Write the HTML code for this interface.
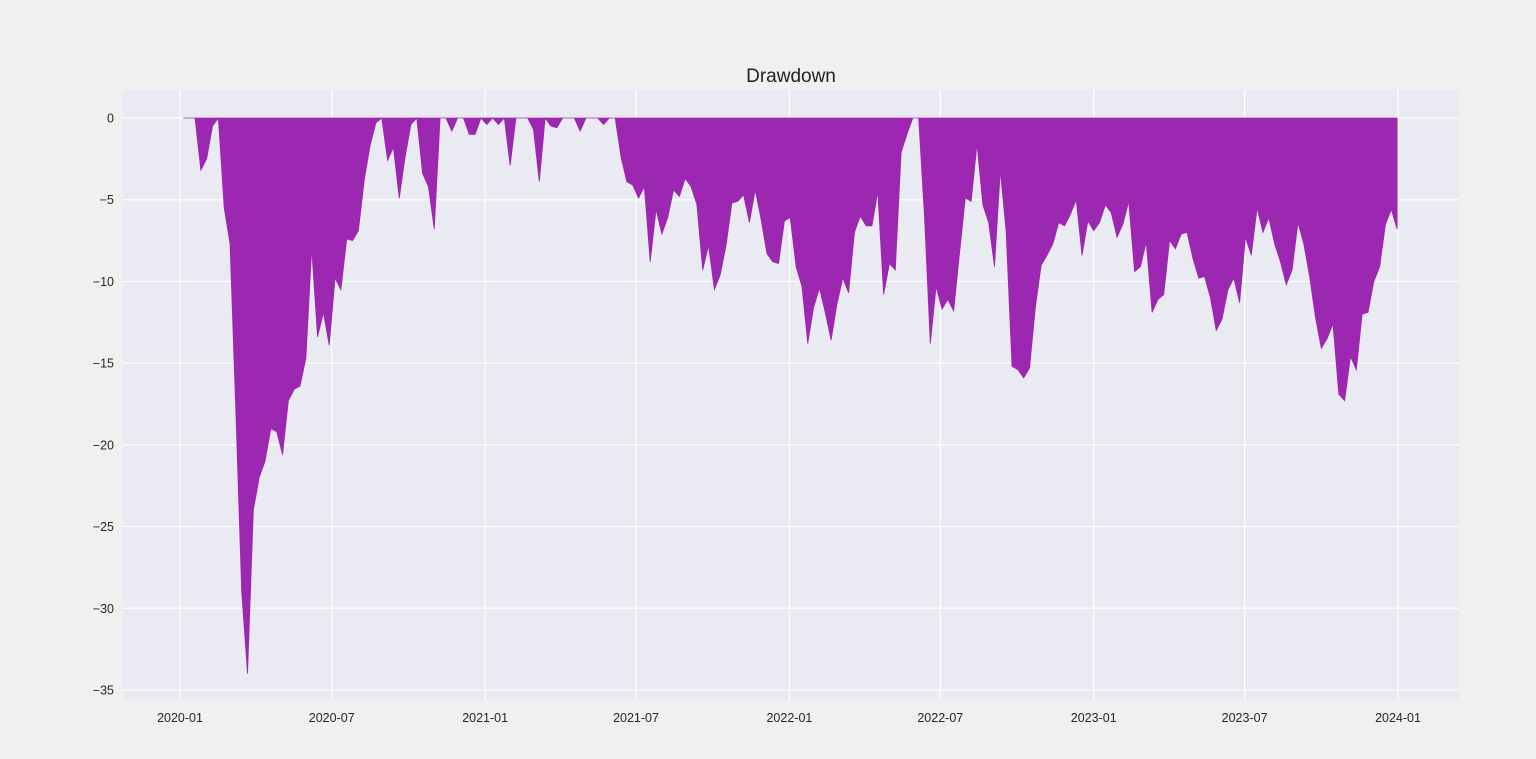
<!DOCTYPE html>
<html><head><meta charset="utf-8"><style>
body{margin:0;background:#f0f0f0;width:1536px;height:754px;overflow:hidden;font-family:"Liberation Sans",sans-serif}
</style></head><body>
<svg id="chart" width="1536" height="754" xmlns="http://www.w3.org/2000/svg">
<rect width="1536" height="754" fill="#f0f0f0"/>
<rect x="123" y="90" width="1336" height="610" fill="#eaeaf2"/>
<g id="grid"></g>
<path id="area" fill="#9c27b0"/>
<g id="ticks"></g>
<text x="791" y="82" text-anchor="middle" font-size="19" fill="#222">Drawdown</text>
</svg>
<script>
const startDate = "2020-01-05";
const stepDays = 7;
const drawdown = [0,0,0,-3.2,-2.5,-0.5,0,-5.5,-7.7,-18,-29,-34,-24,-22,-21,-19,-19.2,-20.6,-17.3,-16.6,-16.4,-14.7,-8,-13.4,-11.9,-13.9,-9.8,-10.5,-7.4,-7.5,-6.9,-3.8,-1.7,-0.3,0,-2.6,-1.8,-4.9,-2.4,-0.4,0,-3.4,-4.2,-6.8,0,0,-0.8,0,0,-1,-1,0,-0.4,0,-0.4,0,-2.9,0,0,0,-0.7,-3.9,0,-0.5,-0.6,0,0,0,-0.8,0,0,0,-0.4,0,0,-2.4,-3.9,-4.1,-4.9,-4.2,-8.8,-5.6,-7.1,-6.1,-4.4,-4.8,-3.7,-4.2,-5.3,-9.3,-7.8,-10.5,-9.6,-7.8,-5.2,-5.1,-4.7,-6.4,-4.4,-6.2,-8.3,-8.8,-8.9,-6.3,-6.1,-9.1,-10.3,-13.8,-11.6,-10.4,-11.9,-13.6,-11.4,-9.8,-10.7,-7,-6,-6.6,-6.6,-4.5,-10.8,-8.9,-9.3,-2.1,-1,0,0,-6,-13.8,-10.3,-11.7,-11.1,-11.8,-8.3,-4.9,-5.1,-1.6,-5.3,-6.4,-9.1,-3.2,-7,-15.2,-15.4,-15.9,-15.3,-11.6,-9,-8.4,-7.7,-6.4,-6.6,-5.9,-5,-8.4,-6.3,-6.9,-6.4,-5.3,-5.8,-7.3,-6.5,-5.1,-9.4,-9.1,-7.6,-11.9,-11.1,-10.8,-7.5,-8.0,-7.1,-7.0,-8.6,-9.8,-9.7,-11.0,-13.0,-12.3,-10.5,-9.8,-11.3,-7.3,-8.4,-5.5,-7.0,-6.1,-7.7,-8.8,-10.2,-9.3,-6.4,-7.7,-9.7,-12.2,-14.1,-13.5,-12.6,-16.9,-17.3,-14.6,-15.4,-12,-11.9,-10,-9.1,-6.5,-5.6,-6.8];
const yTicks = [0,-5,-10,-15,-20,-25,-30,-35];
const xTicks = ["2020-01","2020-07","2021-01","2021-07","2022-01","2022-07","2023-01","2023-07","2024-01"];

const NS="http://www.w3.org/2000/svg";
const t0=Date.UTC(2020,0,1), DAY=86400000;
function xScale(ms){return 180+(ms-t0)/DAY*(1218/1461);}
function yScale(v){return 118-v*(572/35);}
const s0=Date.parse(startDate+"T00:00:00Z");
const grid=document.getElementById('grid'), ticks=document.getElementById('ticks');
yTicks.forEach(v=>{
  const y=yScale(v);
  const l=document.createElementNS(NS,'line');
  l.setAttribute('x1',123);l.setAttribute('x2',1459);l.setAttribute('y1',y);l.setAttribute('y2',y);
  l.setAttribute('stroke','#fff');l.setAttribute('stroke-width','1.2');
  
  
  grid.appendChild(l);
  const t=document.createElementNS(NS,'text');
  t.setAttribute('x',114);t.setAttribute('y',y+4.5);t.setAttribute('text-anchor','end');
  t.setAttribute('font-size','12.5');t.setAttribute('fill','#262626');
  t.textContent=v===0?'0':'\u2212'+Math.abs(v);
  
  
  ticks.appendChild(t);
});
xTicks.forEach(s=>{
  const x=xScale(Date.parse(s+"-01T00:00:00Z"));
  const l=document.createElementNS(NS,'line');
  l.setAttribute('x1',x);l.setAttribute('x2',x);l.setAttribute('y1',90);l.setAttribute('y2',700);
  l.setAttribute('stroke','#fff');l.setAttribute('stroke-width','1.2');
  
  
  grid.appendChild(l);
  const t=document.createElementNS(NS,'text');
  t.setAttribute('x',x);t.setAttribute('y',722);t.setAttribute('text-anchor','middle');
  t.setAttribute('font-size','12.5');t.setAttribute('fill','#262626');
  t.textContent=s;
  
  
  ticks.appendChild(t);
});
let d='',first,last;
drawdown.forEach((v,i)=>{
  const x=xScale(s0+i*stepDays*DAY), y=yScale(v);
  if(i===0){first=x;d='M'+x+','+yScale(0)+'L'+x+','+y;}else d+='L'+x+','+y;
  last=x;
});
d+='L'+last+','+yScale(0)+'Z';
const area=document.getElementById('area');
area.setAttribute('d',d);
area.setAttribute('stroke','#9c27b0');area.setAttribute('stroke-width','0.8');
</script>
</body></html>
